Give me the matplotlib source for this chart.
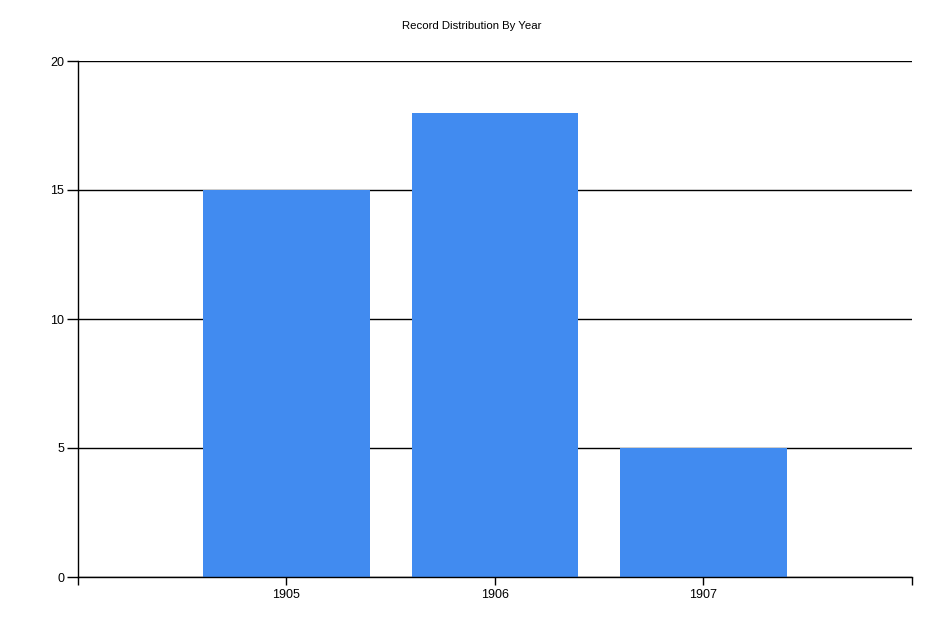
import matplotlib
matplotlib.use("Agg")
import matplotlib.pyplot as plt

years = ["1905", "1906", "1907"]
counts = [15, 18, 5]
y_ticks = [0, 5, 10, 15, 20]

plt.rcParams['font.family'] = ['Liberation Sans', 'DejaVu Sans']

fig = plt.figure(figsize=(9.45, 6.3), dpi=100)
ax = fig.add_axes([78/945, 1-577/630, (912-78)/945, (577-61)/630])

pos = list(range(1, len(years) + 1))
ax.bar(pos, counts, width=0.8, color="#418BF0", zorder=2)

ax.set_xlim(0, len(years) + 1)
ax.set_ylim(0, 20)
ax.set_yticks(y_ticks)
ax.set_yticklabels([str(v) for v in y_ticks], fontsize=9)
ax.set_xticks(list(range(0, len(years) + 2)))
ax.set_xticklabels([""] + years + [""], fontsize=9)
ax.yaxis.grid(True, color="black", linewidth=1, zorder=1)
ax.set_axisbelow(True)
for s in ["top", "right"]:
    ax.spines[s].set_visible(False)
for s in ["left", "bottom"]:
    ax.spines[s].set_linewidth(1)
    ax.spines[s].set_color("black")
ax.tick_params(axis="y", length=8, width=1, pad=2)
ax.tick_params(axis="x", length=6, width=1, pad=3)

fig.text(472/945, 1-26/630, "Record Distribution By Year", ha="center", va="center", fontsize=8.2)

fig.savefig("out.png", dpi=100)
